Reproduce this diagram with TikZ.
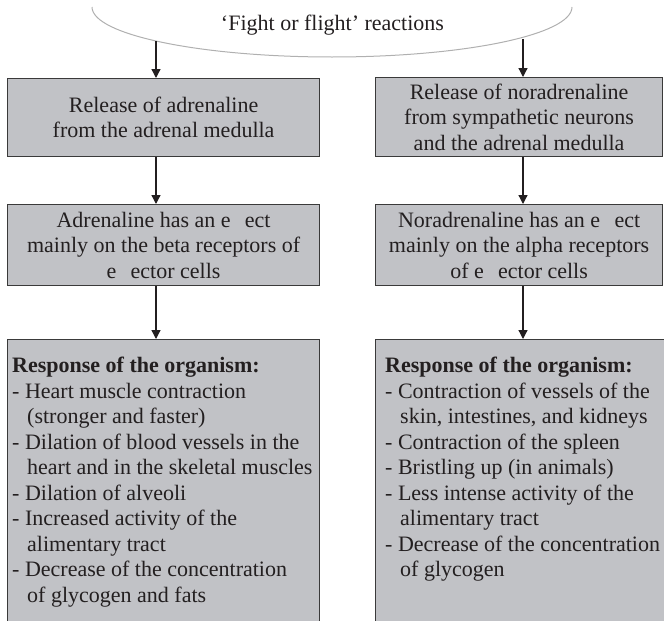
\documentclass[tikz,border=0pt]{standalone}
\usepackage{fontspec}
\setmainfont{Liberation Serif}
\usetikzlibrary{arrows.meta}

\definecolor{boxfill}{HTML}{C1C2C6}
\definecolor{boxedge}{HTML}{3A3A3A}
\definecolor{arcgray}{HTML}{B0B0B0}
\definecolor{ink}{HTML}{231F20}

% indentation of the continuation lines in the response lists
\newcommand\contind{\hspace*{15pt}}

\tikzset{
  txt/.style={font=\fontsize{22pt}{25.5pt}\selectfont, text=ink, inner sep=0pt},
  panel/.style={txt, draw=boxedge, fill=boxfill, line width=1.2pt,
    align=center, anchor=north west},
  listtext/.style={txt, align=left, anchor=north west},
  flow/.style={draw=ink, line width=1.3pt, -{Triangle[width=9pt,length=9pt]}},
  arcline/.style={draw=arcgray, line width=1pt}
}

\begin{document}
\begin{tikzpicture}[x=1pt,y=-1pt]
\useasboundingbox (0,0) rectangle (664,621);
\clip (0,0) rectangle (664,621);

% bracket arc with the heading
\draw[arcline] (92,7) arc[start angle=180, end angle=0, x radius=240, y radius=50];
\node[txt, anchor=base] (head) at (332.5,30) {`Fight or flight' reactions};

% left column
\node[panel, minimum width=312pt, minimum height=78pt] (lb1) at (7,78)
  {Release of adrenaline\\from the adrenal medulla};
\node[panel, minimum width=312pt, minimum height=81pt] (lb2) at (7,204)
  {Adrenaline has an e\phantom{ff}ect\\mainly on the beta receptors of\\e\phantom{ff}ector cells};
\node[panel, minimum width=312pt, minimum height=300pt] (lb3) at (7,339) {};
\node[listtext] (lt3) at (12,357)
  {\textbf{Response of the organism:}\\
   - Heart muscle contraction\\
   \contind(stronger and faster)\\
   - Dilation of blood vessels in the\\
   \contind heart and in the skeletal muscles\\
   - Dilation of alveoli\\
   - Increased activity of the\\
   \contind alimentary tract\\
   - Decrease of the concentration\\
   \contind of glycogen and fats};

% right column
\node[panel, minimum width=287pt, minimum height=79pt] (rb1) at (375,77)
  {Release of noradrenaline\\from sympathetic neurons\\and the adrenal medulla};
\node[panel, minimum width=287pt, minimum height=81pt] (rb2) at (375,204)
  {Noradrenaline has an e\phantom{ff}ect\\mainly on the alpha receptors\\of e\phantom{ff}ector cells};
\node[panel, minimum width=295pt, minimum height=300pt] (rb3) at (375,339) {};
\node[listtext] (rt3) at (385,357)
  {\textbf{Response of the organism:}\\
   - Contraction of vessels of the\\
   \contind skin, intestines, and kidneys\\
   - Contraction of the spleen\\
   - Bristling up (in animals)\\
   - Less intense activity of the\\
   \contind alimentary tract\\
   - Decrease of the concentration\\
   \contind of glycogen};

% arrows
\coordinate (colL) at (156,0);
\coordinate (colR) at (523,0);
\coordinate (arcL) at (156,41);
\coordinate (arcR) at (523,39);
\draw[flow] (arcL) -- (lb1.north -| colL);
\draw[flow] (lb1.south -| colL) -- (lb2.north -| colL);
\draw[flow] (lb2.south -| colL) -- (lb3.north -| colL);
\draw[flow] (arcR) -- (rb1.north -| colR);
\draw[flow] (rb1.south -| colR) -- (rb2.north -| colR);
\draw[flow] (rb2.south -| colR) -- (rb3.north -| colR);
\end{tikzpicture}
\end{document}
